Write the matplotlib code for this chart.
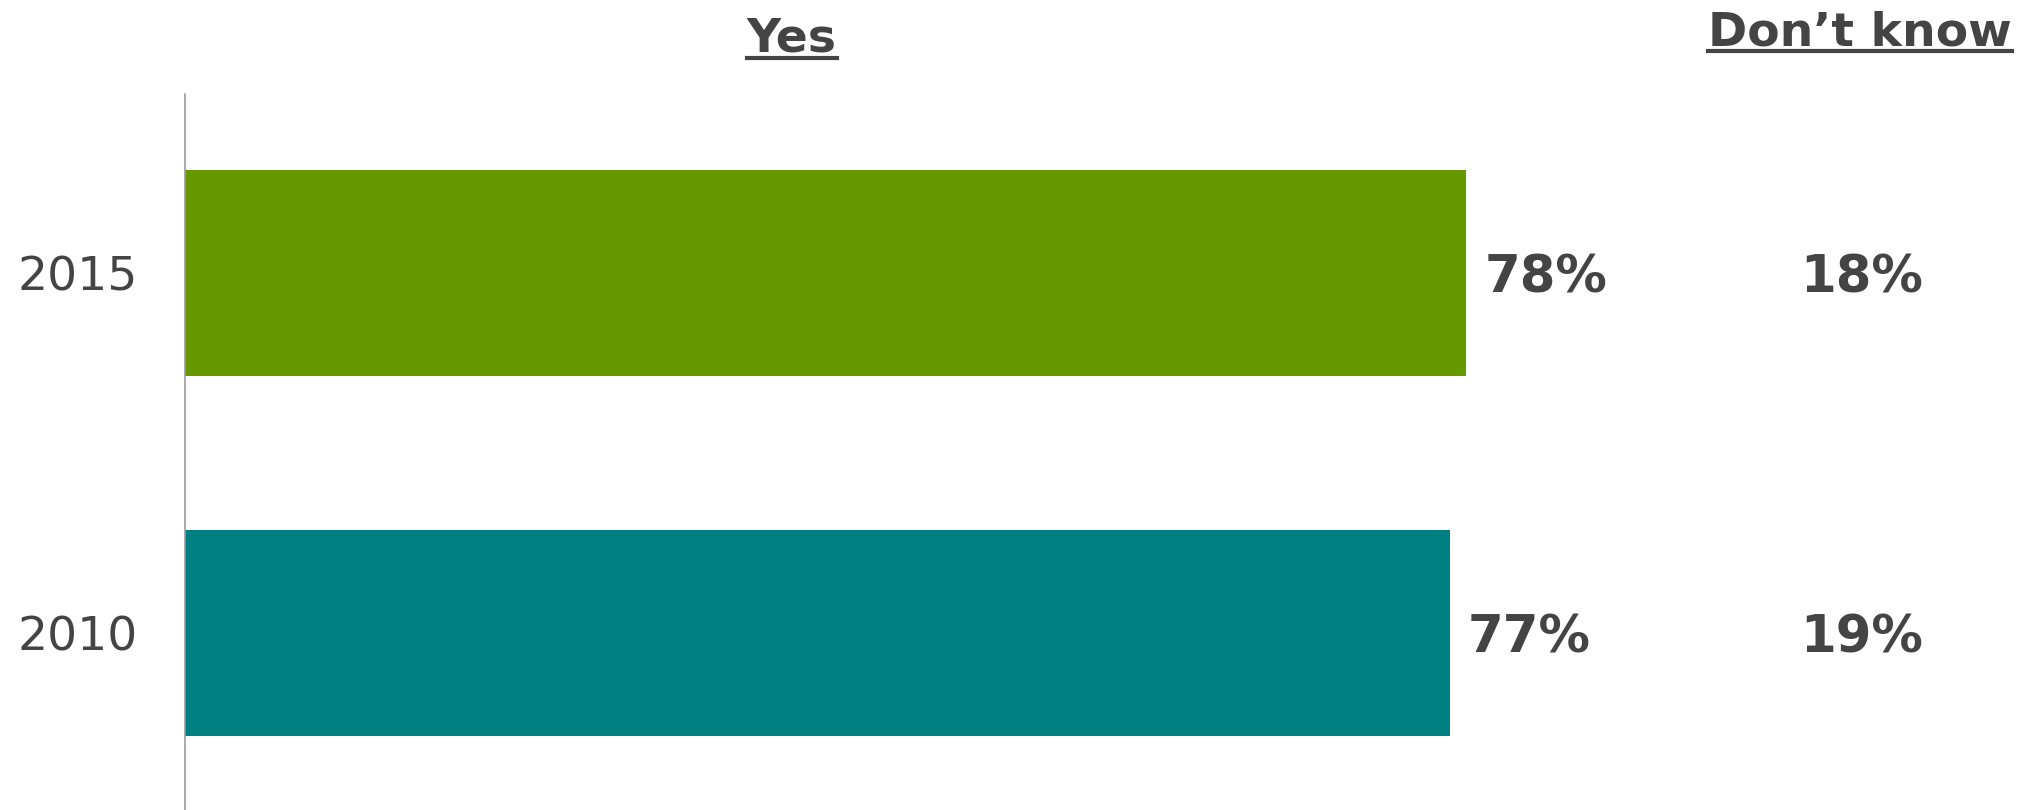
import matplotlib
matplotlib.use("Agg")
import matplotlib.pyplot as plt
from matplotlib.lines import Line2D

years = ["2010", "2015"]
yes_pct = [77, 78]
dont_know_pct = [19, 18]
bar_colors = ["#008080", "#669900"]
TEXT = "#444444"

plt.rcParams["font.family"] = ["DejaVu Sans"]

fig = plt.figure(figsize=(20.38, 8.10), dpi=100)
ax = fig.add_axes([0.0908, 0.0, 0.806, 0.884])

pos = list(range(len(years)))
ax.barh(pos, yes_pct, height=0.572, color=bar_colors)
ax.set_xlim(0, 100)
ax.set_ylim(-0.492, 1.497)

ax.set_yticks(pos)
ax.set_yticklabels(years, fontsize=34, color=TEXT)
ax.tick_params(axis="y", length=0, pad=34)
ax.set_xticks([])
for side in ["top", "right", "bottom"]:
    ax.spines[side].set_visible(False)
ax.spines["left"].set_color("#999999")
ax.spines["left"].set_linewidth(1.2)

# "Yes" values next to the bars
for p, v in zip(pos, yes_pct):
    ax.annotate(f"{v}%", (v, p), xytext=(13, 0), textcoords="offset points",
                ha="left", va="center_baseline", fontsize=37, fontweight="bold",
                color=TEXT)

# "Don't know" column on the right
for p, v in zip(pos, dont_know_pct):
    ax.text(1.021, p, f"{v}%", transform=ax.get_yaxis_transform(),
            ha="center", va="center_baseline", fontsize=37, fontweight="bold",
            color=TEXT, clip_on=False)

headers = [
    fig.text(0.3886, 0.936, "Yes", ha="center", va="baseline",
             fontsize=34, fontweight="bold", color=TEXT),
    fig.text(0.9127, 0.944, "Don\u2019t know", ha="center", va="baseline",
             fontsize=34, fontweight="bold", color=TEXT),
]

# underline the column headers
fig.canvas.draw()
renderer = fig.canvas.get_renderer()
for t in headers:
    bb = t.get_window_extent(renderer).transformed(fig.transFigure.inverted())
    _, y_base = t.get_position()
    y = y_base - 6 / 810
    fig.add_artist(Line2D([bb.x0, bb.x1], [y, y], color=TEXT, linewidth=3,
                          transform=fig.transFigure))

fig.savefig("out.png", dpi=100)
